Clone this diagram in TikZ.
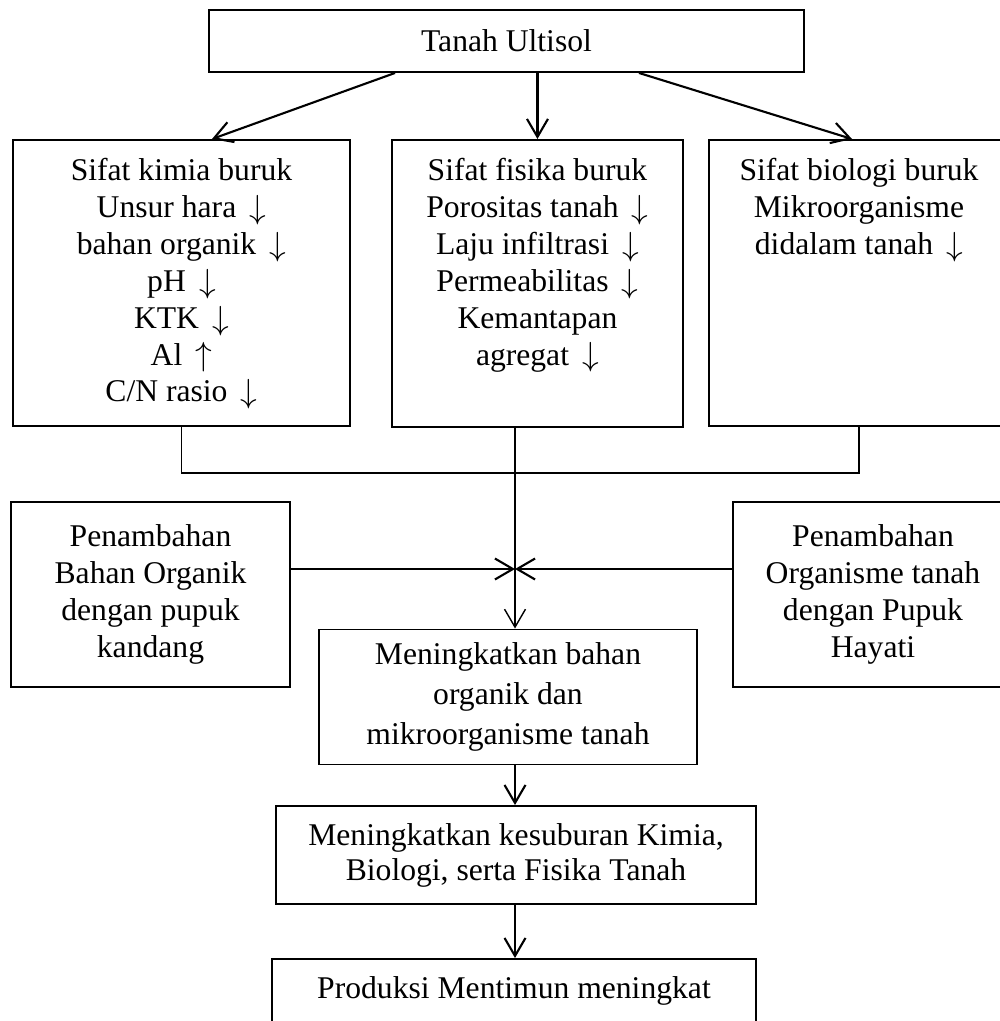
\documentclass[tikz,border=0pt]{standalone}
\usepackage{fontspec}
\setmainfont{Liberation Serif}
\usetikzlibrary{arrows.meta,positioning}
\newcommand{\panahturun}{\,\raisebox{-0.5pt}{\scalebox{1.1}{$\downarrow$}}}
\newcommand{\panahnaik}{\,\raisebox{-0.5pt}{\scalebox{1.1}{$\uparrow$}}}

\begin{document}
\begin{tikzpicture}[
x=0.02cm, y=-0.02cm,
box/.style = {% framed boxes
    draw, line width=1.1pt, inner sep=0pt, align=center,
    font=\fontsize{18}{21}\selectfont,
            },
sz/.style 2 args = {minimum width=#1*0.02cm, minimum height=#2*0.02cm},
txt/.style = {% text hung from the top of a box
    inner sep=0pt, align=center, font=\fontsize{18}{21}\selectfont,
            },
arr/.style = {line width=1.2pt, -{Straight Barb[length=3.6mm,width=4.2mm]}},
bus/.style = {line width=0.8pt},
                        ]
  \clip (0,0) rectangle (1000,1021);

  % top box
  \node[box, sz={595}{62}] (ultisol) at (506.5,41) {Tanah Ultisol};

  % three kinds of bad soil properties
  \node[box, sz={337}{286}, anchor=north west] (kimia) at (12,139) {};
  \node[box, sz={291}{287}, anchor=north west] (fisika) at (391,139) {};
  \node[box, sz={300}{286}, anchor=north west] (biologi) at (708,139) {};

  \node[txt, below=0.38cm of kimia.north] (kimiatxt)
      {Sifat kimia buruk\\Unsur hara \panahturun\\bahan organik \panahturun\\pH \panahturun\\
       KTK \panahturun\\Al \panahnaik\\C/N rasio \panahturun};
  \node[txt, below=0.38cm of fisika.north] (fisikatxt)
      {Sifat fisika buruk\\Porositas tanah \panahturun\\Laju infiltrasi \panahturun\\
       Permeabilitas \panahturun\\Kemantapan\\agregat \panahturun};
  \node[txt, below=0.38cm of biologi.north] (biologitxt)
      {Sifat biologi buruk\\Mikroorganisme\\didalam tanah \panahturun};

  % treatments
  \node[box, sz={279}{185}] (organik) at (150.5,594.5)
      {Penambahan\\Bahan Organik\\dengan pupuk\\kandang};
  \node[box, sz={280}{185}] (hayati) at (873,594.5)
      {Penambahan\\Organisme tanah\\dengan Pupuk\\Hayati};

  % results
  \node[box, sz={378}{135}, font=\fontsize{18}{23}\selectfont] (naik) at (508,697)
      {Meningkatkan bahan\\organik dan\\mikroorganisme tanah};
  \node[box, sz={480}{98}, font=\fontsize{18}{20}\selectfont] (subur) at (516,855)
      {Meningkatkan kesuburan Kimia,\\Biologi, serta Fisika Tanah};
  \node[box, sz={484}{64}] (produksi) at (514,991)
      {Produksi Mentimun meningkat};

  \coordinate (tipL) at (212,139);
  \coordinate (tipR) at (852,139);
  \coordinate (bus) at (515,473);
  \coordinate (spine) at (515,426);
  \coordinate (jn) at (515,569);

  \draw[arr] ([xshift=-2.23cm]ultisol.south) -- (tipL);
  \draw[arr] (ultisol.south -| fisika.north) -- (fisika.north);
  \draw[arr] ([xshift=2.65cm]ultisol.south) -- (tipR);

  \draw[bus] (kimia.south) |- (bus) -| (biologi.south);
  \draw[arr, line width=0.8pt] (spine) -- (naik.north -| spine);

  \draw[arr] (organik.east |- jn) -- (jn);
  \draw[arr] (hayati.west |- jn) -- (jn);

  \draw[arr] (naik.south -| spine) -- (subur.north -| spine);
  \draw[arr] (subur.south -| spine) -- (produksi.north -| spine);

\end{tikzpicture}
\end{document}
